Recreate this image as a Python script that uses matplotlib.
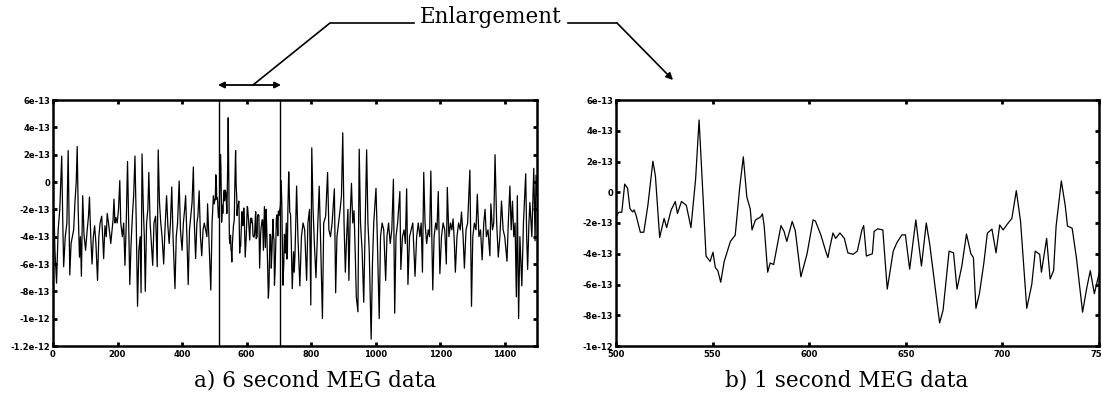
import numpy as np
import matplotlib
matplotlib.use("Agg")
import matplotlib.pyplot as plt
from matplotlib.ticker import FixedLocator, FixedFormatter

# values in units of 1e-13 (T)
# 1 second enlargement, samples 500..750
enlarged = [
    (500, -1.6), (501.4, -1.3), (503, -1.3), (504.5, 0.53), (506, 0.26), (507.2, -1.06),
    (508.6, -1.28), (509.4, -1.15), (510.4, -1.5), (512.6, -2.6), (514.4, -2.6), (516.5, -0.85),
    (519.1, 2.02), (520.4, 1.06), (522.6, -2.94), (524.9, -1.7), (526.2, -2.3), (528.5, -1.17),
    (530.7, -0.6), (531.8, -1.38), (533.9, -0.6), (536.4, -0.85), (538.8, -2.3), (541.2, 0.85),
    (543, 4.7), (545.1, -0.4), (546.6, -4.15), (548.7, -4.5), (550.2, -3.9), (551.4, -4.9),
    (552.7, -5.1), (554.2, -5.85), (556, -4.5), (559.2, -3.2), (561.7, -2.8), (564.1, 0.4),
    (565.9, 2.3), (567.7, -0.3), (569.5, -1.1), (570.4, -2.45), (572.2, -1.8), (574.9, -1.6),
    (575.8, -1.4), (576.7, -2.2), (578.5, -5.2), (579.8, -4.6), (581.6, -4.7), (585.4, -2.17),
    (587, -2.55), (588.4, -3.2), (591.2, -1.9), (592.8, -2.5), (595.7, -5.5), (598.9, -4.0),
    (602, -1.8), (603.2, -1.87), (606.1, -2.8), (608.7, -3.9), (609.7, -4.25), (610.5, -3.7),
    (612.3, -2.65), (613.7, -3.0), (615.9, -2.65), (618.2, -3.0), (620, -3.94), (622.7, -4.04),
    (624.9, -3.83), (627.3, -2.45), (628.2, -2.17), (629.6, -4.15), (632.7, -4.0), (633.6, -2.55),
    (635.4, -2.38), (638.1, -2.45), (640.4, -6.3), (643.5, -3.83), (645.3, -3.3), (648, -2.77),
    (649.8, -2.77), (652, -5.0), (655.2, -1.8), (658.1, -4.8), (660.6, -2.0), (662.4, -3.4),
    (667.5, -8.5), (669.3, -7.66), (672.4, -3.83), (674.7, -3.94), (676.5, -6.3), (679, -4.8),
    (681.4, -2.72), (683.7, -4.0), (685, -4.25), (686.3, -7.55), (688.1, -6.6), (690.4, -4.6),
    (692.2, -2.66), (694.6, -2.4), (696.7, -3.94), (698.6, -2.13), (700.4, -2.45), (702.5, -2.08),
    (704.9, -1.7), (707.2, 0.1), (709.4, -1.9), (712.6, -7.55), (715.2, -6.0), (717, -3.83),
    (719.3, -4.04), (720.2, -5.2), (722.9, -3.0), (724.7, -5.64), (726.5, -5.1), (727.8, -2.2),
    (730.5, 0.74), (732.5, -0.85), (733.7, -2.2), (736.1, -2.34), (738.3, -4.25), (741.5, -7.8),
    (743.7, -6.2), (745.5, -5.1), (747.6, -6.6), (750, -5.3),
]

# 6 second record, before the enlarged part
before = [
    (0, -4.0), (3, -2.0), (6, -5.0), (11, -7.4), (16, -3.5), (21, -2.0), (27, 1.9), (30, -2.5),
    (33, -6.2), (38, -4.0), (43, -3.0), (47, 2.3), (50, -3.0), (52, -6.8), (56, -4.5), (60, -4.0),
    (64, -3.5), (68, -1.5), (72, 0.0), (75, 2.6), (78, -2.0), (82, -5.5), (85, -4.0), (88, -6.9),
    (92, -1.0), (96, -3.8), (101, -5.0), (106, -3.5), (110, -2.5), (113, -1.1), (117, -4.0),
    (121, -6.0), (125, -4.0), (129, -3.2), (133, -4.5), (138, -7.2), (142, -4.0), (146, -3.0),
    (151, -2.5), (154, -4.0), (157, -5.6), (161, -3.2), (165, -4.0), (168, -2.3), (172, -3.0),
    (176, -3.8), (179, -4.5), (183, -3.5), (186, -2.8), (189, -1.25), (192, -3.0), (195, -2.6),
    (199, -3.0), (203, -2.0), (207, 0.1), (210, -3.0), (215, -4.0), (219, -3.0), (223, -6.1),
    (227, -3.0), (231, 1.5), (234, -2.5), (238, -7.5), (242, -4.5), (246, -2.5), (250, -1.0),
    (254, 1.9), (258, -3.0), (262, -9.1), (266, -5.0), (270, -4.0), (273, -8.1), (276, 2.05),
    (280, -2.0), (283, -4.0), (286, -8.0), (290, -3.0), (294, -2.0), (297, 0.7), (301, -3.0),
    (305, -4.5), (309, -6.1), (313, -3.0), (318, -2.5), (323, -6.2), (326, 2.35), (330, -1.5),
    (334, -3.0), (338, -4.0), (343, -6.0), (347, -3.5), (352, -1.0), (356, -3.2), (360, -4.5),
    (364, -3.0), (368, -0.36), (372, -4.0), (378, -7.8), (382, -4.0), (386, -3.0), (391, 0.07),
    (395, -3.5), (400, -5.0), (404, -3.0), (408, -2.0), (411, -1.0), (415, -4.0), (419, -7.5),
    (423, -3.5), (427, -2.5), (431, -1.5), (435, 1.1), (438, -3.0), (442, -5.6), (446, -3.0),
    (449, -2.5), (453, -0.65), (457, -4.0), (461, -5.4), (465, -3.5), (469, -3.0), (473, -3.5),
    (477, -4.0), (479, -1.6), (483, -4.0), (489, -7.9), (493, -3.0), (497, -1.0),
]

# 6 second record, after the enlarged part
after = [
    (755, -0.3), (759, -4.0), (765, -7.6), (770, -4.0), (775, -3.0), (780, -3.5), (786, -7.2),
    (790, -3.0), (795, -2.0), (799, -9.0), (802, 2.5), (806, -2.0), (810, -4.5), (815, -7.0),
    (820, -3.5), (825, -0.3), (829, -4.0), (835, -10.0), (839, -3.0), (845, -2.5), (851, 0.7),
    (855, -3.5), (860, -4.0), (865, -3.0), (872, -0.5), (876, -8.1), (880, -4.0), (885, -3.0),
    (890, -2.0), (894, -1.0), (898, 3.6), (902, -3.0), (906, -6.6), (910, -4.0), (914, -2.0),
    (917, -7.2), (921, -2.5), (925, -0.1), (929, -3.0), (933, -2.1), (937, -5.5), (940, -8.4),
    (945, -9.5), (949, 2.4), (953, -3.0), (958, -5.0), (963, -8.8), (967, -4.0), (972, 2.35),
    (976, -3.0), (980, -5.0), (986, -11.5), (990, -6.0), (994, -3.0), (1001, -0.46), (1005, -4.0),
    (1011, -10.0), (1015, -4.0), (1020, -3.0), (1025, -3.5), (1031, -7.2), (1035, -4.0),
    (1040, -3.0), (1045, -4.5), (1050, -3.5), (1055, 0.2), (1059, -9.6), (1063, -4.0),
    (1068, -3.0), (1075, -0.7), (1078, -6.4), (1083, -4.0), (1088, -3.5), (1092, -4.5),
    (1096, -0.5), (1100, -7.5), (1105, -4.0), (1110, -3.5), (1115, -3.0), (1122, -6.9),
    (1127, -4.0), (1132, -3.0), (1137, -4.0), (1141, -3.0), (1145, -6.6), (1149, 0.7),
    (1153, -3.0), (1158, -4.5), (1163, -3.5), (1167, -4.0), (1171, 0.8), (1174, -4.0),
    (1177, -7.9), (1181, -4.0), (1186, -3.0), (1190, -3.5), (1194, -0.7), (1199, -6.7),
    (1204, -4.0), (1209, -3.0), (1214, -3.5), (1219, -6.0), (1222, -0.4), (1227, -4.0),
    (1232, -3.0), (1236, -3.5), (1240, -2.7), (1244, -4.5), (1247, -6.6), (1252, -4.0),
    (1257, -3.0), (1262, -3.5), (1266, -2.2), (1271, -4.0), (1275, -6.3), (1280, -3.5),
    (1285, -3.0), (1292, 0.87), (1297, -9.1), (1301, -4.0), (1306, -3.0), (1311, -3.5),
    (1315, -0.9), (1320, -4.0), (1325, -3.5), (1330, -5.7), (1335, -3.0), (1339, -2.0),
    (1343, -4.0), (1348, -3.5), (1354, -5.4), (1357, -1.6), (1362, -3.5), (1366, -3.0),
    (1370, 2.0), (1375, -3.0), (1380, -5.5), (1385, -4.0), (1390, -1.4), (1395, -3.5),
    (1400, -4.0), (1407, -5.8), (1411, -3.0), (1416, -0.3), (1420, -3.5), (1424, -1.4),
    (1428, -4.0), (1432, -3.0), (1436, -8.4), (1439, -1.0), (1443, -10.0), (1447, -4.0),
    (1453, -7.6), (1458, -3.0), (1465, 0.6), (1468, -4.0), (1471, -6.4), (1475, -3.0),
    (1478, -1.5), (1484, -4.0), (1490, 1.0), (1494, -4.3), (1497, 0.5), (1500, -1.0),
]

window = [513, 705]   # enlarged part marked on the 6 s record

left_yticks = [6e-13, 4e-13, 2e-13, 0, -2e-13, -4e-13, -6e-13, -8e-13, -1e-12, -1.2e-12]
left_ylabels = ["6e-13", "4e-13", "2e-13", "0", "-2e-13", "-4e-13", "-6e-13", "-8e-13", "-1e-12", "-1.2e-12"]
left_xticks = [0, 200, 400, 600, 800, 1000, 1200, 1400]
right_yticks = left_yticks[:-1]
right_ylabels = left_ylabels[:-1]
right_xticks = [500, 550, 600, 650, 700, 750]

t_big, v_big = zip(*(before + enlarged + after))
t_small, v_small = zip(*enlarged)
scale = 1e-13

fig = plt.figure(figsize=(11.02, 4.07), dpi=100)


def style(ax, xt, yt, yl):
    ax.xaxis.set_major_locator(FixedLocator(xt))
    ax.set_xticklabels([str(x) for x in xt])
    ax.yaxis.set_major_locator(FixedLocator(yt))
    ax.yaxis.set_major_formatter(FixedFormatter(yl))
    ax.tick_params(direction="in", length=3, width=2, top=True, right=True,
                   labelsize=6, pad=2)
    ax.tick_params(axis="x", pad=3)
    for lab in ax.get_xticklabels() + ax.get_yticklabels():
        lab.set_fontweight("bold")
    for s in ax.spines.values():
        s.set_linewidth(1.8)


ax1 = fig.add_axes([53 / 1102, 61 / 407, 484 / 1102, 246 / 407])
ax1.plot(t_big, np.array(v_big) * scale, color="black", lw=0.9)
for w in window:
    ax1.axvline(w, color="black", lw=1.0)
ax1.set_xlim(0, 1500)
ax1.set_ylim(-1.2e-12, 6e-13)
style(ax1, left_xticks, left_yticks, left_ylabels)

ax2 = fig.add_axes([616 / 1102, 61 / 407, 483 / 1102, 246 / 407])
ax2.plot(t_small, np.array(v_small) * scale, color="black", lw=0.9)
ax2.set_xlim(500, 750)
ax2.set_ylim(-1e-12, 6e-13)
style(ax2, right_xticks, right_yticks, right_ylabels)

fig.text(315 / 1102, 1 - 381 / 407, "a) 6 second MEG data", family="DejaVu Serif",
         fontsize=15.5, ha="center", va="center")
fig.text(847 / 1102, 1 - 381 / 407, "b) 1 second MEG data", family="DejaVu Serif",
         fontsize=15.5, ha="center", va="center")

# "Enlargement" call-out drawn in pixel coordinates
ov = fig.add_axes([0, 0, 1, 1], facecolor="none")
ov.set_xlim(0, 1102)
ov.set_ylim(407, 0)
ov.axis("off")
ov.annotate("", xy=(218, 85), xytext=(281, 85),
            arrowprops=dict(arrowstyle="<|-|>", color="black", lw=1.3, mutation_scale=9,
                            shrinkA=0, shrinkB=0))
ov.plot([253, 330, 414], [85, 23, 23], color="black", lw=1.2)
ov.text(491, 17, "Enlargement", family="DejaVu Serif", fontsize=15.5, ha="center", va="center")
ov.plot([568, 617], [23, 23], color="black", lw=1.2)
ov.annotate("", xy=(673, 80), xytext=(617, 23),
            arrowprops=dict(arrowstyle="-|>", color="black", lw=1.2, mutation_scale=10,
                            shrinkA=0, shrinkB=0))

fig.savefig("out.png", dpi=100)
